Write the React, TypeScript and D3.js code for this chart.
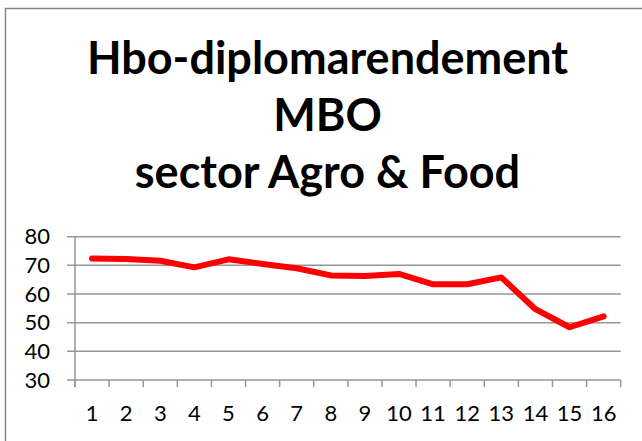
import React, { useRef, useEffect } from 'react';
import * as d3 from 'd3';

const categories = ['1', '2', '3', '4', '5', '6', '7', '8', '9', '10', '11', '12', '13', '14', '15', '16'];
const values = [72.4, 72.2, 71.6, 69.3, 72.1, 70.5, 69.0, 66.5, 66.3, 67.0, 63.4, 63.4, 65.8, 54.7, 48.4, 52.2];
const yTicks = [30, 40, 50, 60, 70, 80];
const titleLines = ['Hbo-diplomarendement', 'MBO', 'sector Agro & Food'];

const width = 642;
const height = 441;

const App = () => {
  const svgRef = useRef<SVGSVGElement>(null);

  useEffect(() => {
    const svg = d3.select(svgRef.current);
    svg.selectAll('*').remove();

    svg.append('rect')
      .attr('width', width)
      .attr('height', height)
      .attr('fill', '#ffffff');

    // chart border (right and bottom edges run off the page)
    svg.append('rect')
      .attr('x', 5.5)
      .attr('y', 8.5)
      .attr('width', width + 10)
      .attr('height', height + 10)
      .attr('fill', 'none')
      .attr('stroke', '#868686')
      .attr('stroke-width', 1.5);

    const font = 'Lato, "Open Sans", sans-serif';

    svg.append('g')
      .selectAll('text')
      .data(titleLines)
      .join('text')
      .attr('x', 327.5)
      .attr('y', (d, i) => 74 + i * 57)
      .attr('text-anchor', 'middle')
      .style('font-family', font)
      .style('font-weight', 'bold')
      .style('font-size', '45px')
      .attr('fill', '#000')
      .text((d) => d);

    const left = 75;
    const right = 620.7;
    const top = 236.7;
    const bottom = 380;

    const x = d3.scaleBand().domain(categories).range([left, right]);
    const y = d3.scaleLinear().domain([30, 80]).range([bottom, top]);

    // gridlines
    svg.append('g')
      .selectAll('line')
      .data(yTicks)
      .join('line')
      .attr('x1', left - 8)
      .attr('x2', right)
      .attr('y1', (d) => y(d))
      .attr('y2', (d) => y(d))
      .attr('stroke', '#969696')
      .attr('stroke-width', 1.5);

    // y axis
    svg.append('line')
      .attr('x1', left)
      .attr('x2', left)
      .attr('y1', top)
      .attr('y2', bottom + 7)
      .attr('stroke', '#969696')
      .attr('stroke-width', 1.5);

    svg.append('g')
      .selectAll('text')
      .data(yTicks)
      .join('text')
      .attr('x', 50)
      .attr('y', (d) => y(d))
      .attr('dy', '0.35em')
      .attr('text-anchor', 'end')
      .style('font-family', font)
      .style('font-size', '22px')
      .attr('fill', '#000')
      .text((d) => d);

    // x axis ticks
    const tickPos = categories.map((c) => x(c)!).concat([right]);
    svg.append('g')
      .selectAll('line')
      .data(tickPos)
      .join('line')
      .attr('x1', (d) => d)
      .attr('x2', (d) => d)
      .attr('y1', bottom)
      .attr('y2', bottom + 7)
      .attr('stroke', '#969696')
      .attr('stroke-width', 1.5);

    svg.append('g')
      .selectAll('text')
      .data(categories)
      .join('text')
      .attr('x', (d) => x(d)! + x.bandwidth() / 2)
      .attr('y', 421)
      .attr('text-anchor', 'middle')
      .style('font-family', font)
      .style('font-size', '22px')
      .attr('fill', '#000')
      .text((d) => d);

    const line = d3.line<number>()
      .x((d, i) => x(categories[i])! + x.bandwidth() / 2)
      .y((d) => y(d));

    svg.append('path')
      .datum(values)
      .attr('fill', 'none')
      .attr('stroke', '#ff0000')
      .attr('stroke-width', 6)
      .attr('stroke-linejoin', 'round')
      .attr('stroke-linecap', 'round')
      .attr('d', line);
  }, []);

  return (
    <svg
      ref={svgRef}
      width={width}
      height={height}
      style={{ position: 'absolute', left: 0, top: 0, display: 'block' }}
    ></svg>
  );
};

export default App;
